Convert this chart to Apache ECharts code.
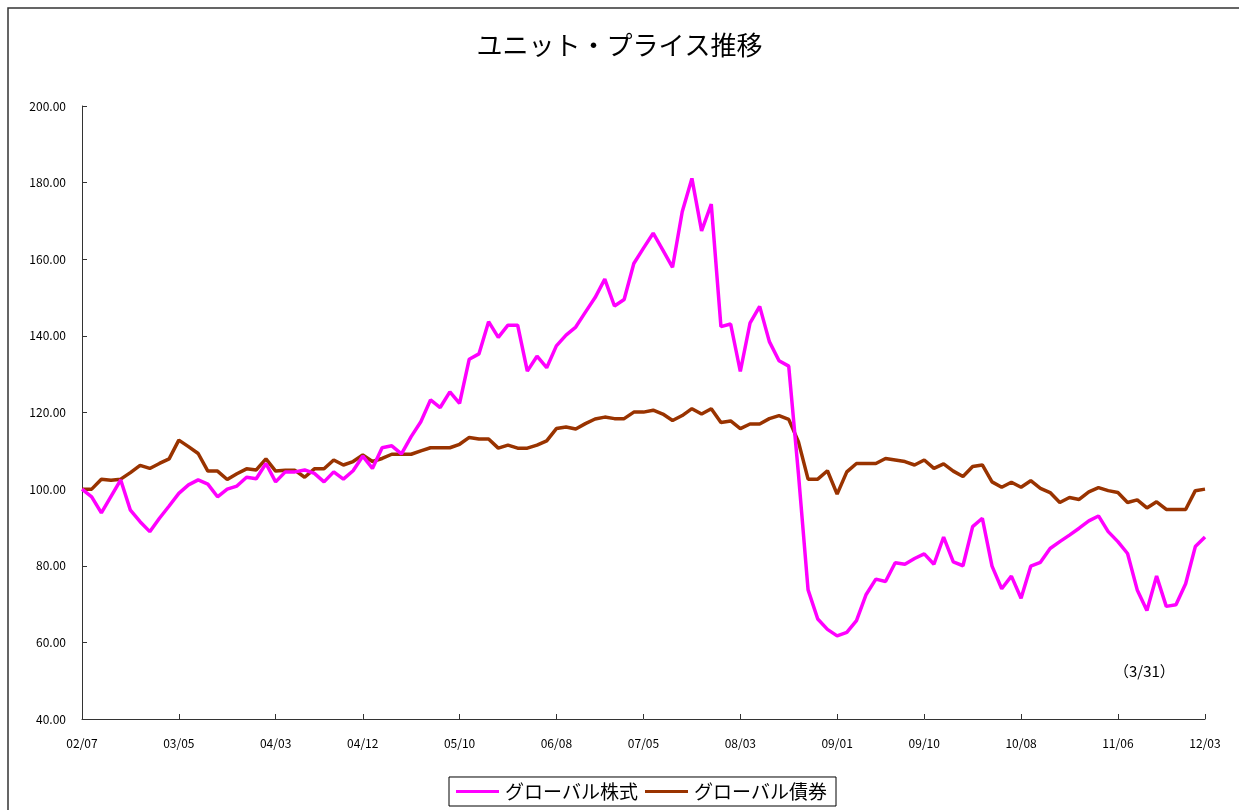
<!DOCTYPE html>
<html>
<head>
<meta charset="utf-8">
<script src="https://cdn.jsdelivr.net/npm/echarts@6/dist/echarts.min.js"></script>
<style>
html,body{margin:0;padding:0;background:#fff;}
#chart{width:1239px;height:810px;}
</style>
</head>
<body>
<div id="chart"></div>
<script>
// Tick labels shown on the x axis
var tickLabels = ['02/07','03/05','04/03','04/12','05/10','06/08','07/05','08/03','09/01','09/10','10/08','11/06','12/03'];

// Monthly categories 2002/07 .. 2012/03
var categories = [];
(function(){
  var y = 2002, m = 7;
  while (y < 2012 || (y === 2012 && m <= 3)) {
    categories.push(String(y % 100).padStart(2,'0') + '/' + String(m).padStart(2,'0'));
    m++; if (m > 12) { m = 1; y++; }
  }
})();

var globalEquity = [
  100.0, 98.0, 93.8, 98.1, 102.4, 94.5, 91.5, 88.9, 92.4, 95.6,
  98.9, 101.1, 102.4, 101.3, 98.0, 100.0, 100.8, 103.1, 102.7, 106.7,
  101.9, 104.5, 104.5, 105.0, 104.1, 101.9, 104.5, 102.6, 104.8, 108.6,
  105.4, 110.8, 111.3, 109.2, 113.7, 117.6, 123.3, 121.3, 125.4, 122.4,
  133.9, 135.3, 143.7, 139.6, 142.8, 142.8, 130.8, 134.7, 131.7, 137.4,
  140.2, 142.3, 146.2, 150.0, 154.8, 147.8, 149.5, 158.9, 162.9, 166.8,
  162.4, 157.9, 172.4, 181.1, 167.4, 174.4, 142.4, 143.1, 130.7, 143.3,
  147.7, 138.5, 133.5, 132.1, 104.1, 73.7, 66.1, 63.4, 61.7, 62.6,
  65.7, 72.5, 76.5, 75.9, 80.8, 80.4, 81.9, 83.1, 80.4, 87.5,
  81.0, 80.0, 90.2, 92.4, 79.9, 74.0, 77.3, 71.5, 79.9, 80.9,
  84.5, 86.3, 88.0, 89.8, 91.7, 93.0, 88.9, 86.3, 83.2, 73.7,
  68.3, 77.3, 69.4, 69.8, 75.3, 85.0, 87.5
];

var globalBond = [
  100.0, 100.0, 102.6, 102.3, 102.6, 104.3, 106.2, 105.4, 106.7, 107.9,
  112.8, 111.1, 109.3, 104.7, 104.7, 102.5, 104.0, 105.3, 105.0, 107.9,
  104.7, 104.9, 104.9, 103.1, 105.3, 105.3, 107.6, 106.3, 107.2, 108.9,
  107.2, 108.0, 109.1, 109.1, 109.1, 110.0, 110.8, 110.8, 110.8, 111.7,
  113.5, 113.1, 113.1, 110.7, 111.5, 110.7, 110.7, 111.5, 112.6, 115.8,
  116.2, 115.7, 117.1, 118.3, 118.8, 118.4, 118.4, 120.1, 120.1, 120.6,
  119.6, 117.9, 119.2, 121.0, 119.6, 121.0, 117.4, 117.8, 115.8, 117.0,
  117.0, 118.4, 119.2, 118.2, 112.4, 102.6, 102.6, 104.8, 98.7, 104.5,
  106.7, 106.7, 106.7, 108.0, 107.6, 107.2, 106.3, 107.6, 105.4, 106.6,
  104.7, 103.3, 105.9, 106.3, 101.9, 100.5, 101.8, 100.5, 102.2, 100.2,
  99.1, 96.5, 97.8, 97.3, 99.3, 100.4, 99.6, 99.1, 96.5, 97.2,
  95.1, 96.7, 94.7, 94.7, 94.7, 99.6, 100.0
];

var seriesNames = ['グローバル株式', 'グローバル債券'];
var noteText = '（3/31）';

var FONT = '"Noto Sans CJK JP", "Noto Sans", sans-serif';

function showLabel(index) {
  return tickLabels.indexOf(categories[index]) >= 0;
}

var chart = echarts.init(document.getElementById('chart'), null, {renderer: 'canvas'});
chart.setOption({
  animation: false,
  backgroundColor: '#fff',
  textStyle: {fontFamily: FONT},
  title: {
    text: 'ユニット・プライス推移',
    left: 'center',
    top: 27,
    textStyle: {fontSize: 26, fontWeight: 'normal', color: '#000', fontFamily: FONT}
  },
  graphic: [
    {type: 'rect', shape: {x: 8, y: 8, width: 1400, height: 1000}, style: {fill: 'none', stroke: '#333', lineWidth: 1.5}, silent: true, z: -1},
    {type: 'text', left: 1114, top: 664, style: {text: noteText, font: '15px ' + FONT, fill: '#000'}}
  ],
  legend: {
    bottom: 4,
    left: 449,
    data: [
      {name: seriesNames[0], icon: 'rect'},
      {name: seriesNames[1], icon: 'rect'}
    ],
    orient: 'horizontal',
    itemWidth: 43,
    itemHeight: 3,
    itemGap: 7,
    borderColor: '#000',
    borderWidth: 1,
    padding: [5, 9, 5, 7],
    textStyle: {fontSize: 19, color: '#000', fontFamily: FONT, padding: [0, 0, 0, 1]}
  },
  grid: {left: 82, right: 34, top: 106, bottom: 91, containLabel: false},
  xAxis: {
    type: 'category',
    data: categories,
    boundaryGap: false,
    axisLine: {lineStyle: {color: '#333', width: 1}},
    axisTick: {inside: true, length: 5, interval: showLabel, lineStyle: {color: '#333'}},
    axisLabel: {interval: showLabel, margin: 18, fontSize: 12, color: '#000', fontFamily: FONT},
    splitLine: {show: false}
  },
  yAxis: {
    type: 'value',
    min: 40,
    max: 200,
    interval: 20,
    axisLine: {show: true, lineStyle: {color: '#333', width: 1}},
    axisTick: {show: true, inside: true, length: 5, lineStyle: {color: '#333'}},
    axisLabel: {margin: 16, fontSize: 12, color: '#000', fontFamily: FONT, formatter: function(v){ return v.toFixed(2); }},
    splitLine: {show: false}
  },
  series: [
    {
      name: seriesNames[0],
      type: 'line',
      data: globalEquity,
      symbol: 'none',
      color: '#FF00FF',
      lineStyle: {color: '#FF00FF', width: 3.5},
      z: 3
    },
    {
      name: seriesNames[1],
      type: 'line',
      data: globalBond,
      symbol: 'none',
      color: '#993300',
      lineStyle: {color: '#993300', width: 3.5},
      z: 2
    }
  ]
});
</script>
</body>
</html>
